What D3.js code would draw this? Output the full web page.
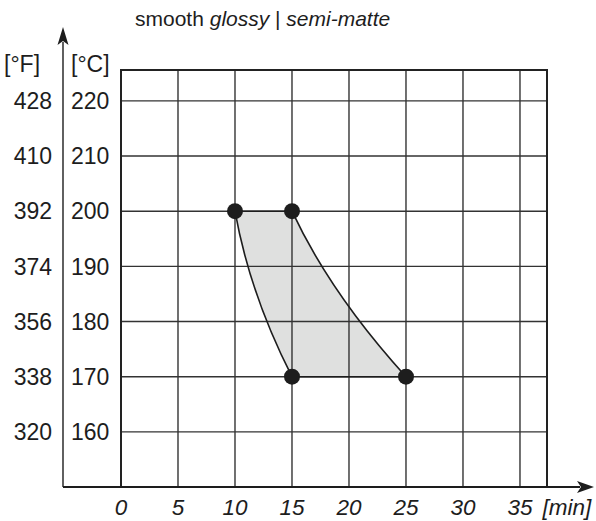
<!DOCTYPE html>
<html><head><meta charset="utf-8">
<script src="https://cdn.jsdelivr.net/npm/d3@7"></script>
<style>
html,body{margin:0;padding:0;background:#fff;}
svg{display:block;font-family:"Liberation Sans",Arial,sans-serif;}
</style></head>
<body>
<svg id="c" width="596" height="521"></svg>
<script>
// ---- data ----
const xTicks = [0, 5, 10, 15, 20, 25, 30, 35];
const yTicksC = [160, 170, 180, 190, 200, 210, 220];
const yTicksF = [320, 338, 356, 374, 392, 410, 428];
const pointTime = [10, 15, 15, 25];
const pointTemp = [200, 200, 170, 170];
// region outline: top edge, right curve (with control point), bottom edge, left curve (with control point)
const rightCurveCtrl = [18.4, 185];
const leftCurveCtrl = [11.3, 185];
const title = ["smooth ", "glossy", " | ", "semi-matte"];
const titleItalic = [false, true, false, true];

// ---- layout ----
const svg = d3.select("#c");
const x = d3.scaleLinear().domain([0, 37.37]).range([121, 547]);
const y = d3.scaleLinear().domain([150, 225.6]).range([487, 70]);
const ink = "#1d1d1d";
const axisX0 = 63;

// filled region
const p = pointTime.map((t, i) => [x(t), y(pointTemp[i])]);
const path = d3.path();
path.moveTo(p[0][0], p[0][1]);
path.lineTo(p[1][0], p[1][1]);
path.quadraticCurveTo(x(rightCurveCtrl[0]), y(rightCurveCtrl[1]), p[3][0], p[3][1]);
path.lineTo(p[2][0], p[2][1]);
path.quadraticCurveTo(x(leftCurveCtrl[0]), y(leftCurveCtrl[1]), p[0][0], p[0][1]);
path.closePath();
svg.append("path").attr("d", path.toString()).attr("fill", "#dfe0df");

// grid
const [xMin, xMax] = x.range();
const [yBot, yTop] = y.range();
svg.append("g").selectAll("line").data(xTicks).join("line")
  .attr("x1", d => x(d)).attr("x2", d => x(d)).attr("y1", yTop).attr("y2", yBot)
  .attr("stroke", "#333").attr("stroke-width", 1.4);
svg.append("g").selectAll("line").data(yTicksC).join("line")
  .attr("x1", xMin).attr("x2", xMax).attr("y1", d => y(d)).attr("y2", d => y(d))
  .attr("stroke", "#333").attr("stroke-width", 1.4);
// frame
svg.append("path").attr("d", `M${xMin},${yBot}V${yTop}H${xMax}V${yBot}`)
  .attr("fill", "none").attr("stroke", "#222").attr("stroke-width", 2);

// outline of region on top of grid
svg.append("path").attr("d", path.toString()).attr("fill", "none")
  .attr("stroke", ink).attr("stroke-width", 1.6);

// axes with arrows
svg.append("line").attr("x1", axisX0).attr("x2", 580).attr("y1", yBot).attr("y2", yBot)
  .attr("stroke", ink).attr("stroke-width", 2);
svg.append("path").attr("d", `M594,${yBot}L577,${yBot-6}L581,${yBot}L577,${yBot+6}Z`).attr("fill", ink);
svg.append("line").attr("x1", axisX0).attr("x2", axisX0).attr("y1", yBot).attr("y2", 42)
  .attr("stroke", ink).attr("stroke-width", 1.4);
svg.append("path").attr("d", `M${axisX0},27L${axisX0-5.5},45L${axisX0},41L${axisX0+5.5},45Z`).attr("fill", ink);

// points
svg.append("g").selectAll("circle").data(pointTime).join("circle")
  .attr("cx", d => x(d)).attr("cy", (d, i) => y(pointTemp[i])).attr("r", 8).attr("fill", ink);

// x labels
svg.append("g").selectAll("text").data(xTicks).join("text")
  .attr("x", d => x(d)).attr("y", 515).attr("text-anchor", "middle")
  .attr("font-size", 22.5).attr("font-style", "italic").attr("fill", ink).text(d => d);
svg.append("text").attr("x", 567).attr("y", 515).attr("text-anchor", "middle")
  .attr("font-size", 22.5).attr("font-style", "italic").attr("fill", ink).text("[min]");

// y labels
svg.append("g").selectAll("text").data(yTicksF).join("text")
  .attr("x", 52).attr("y", (d, i) => y(yTicksC[i])).attr("dy", "0.36em").attr("text-anchor", "end")
  .attr("font-size", 23).attr("fill", ink).text(d => d);
svg.append("g").selectAll("text").data(yTicksC).join("text")
  .attr("x", 71).attr("y", d => y(d)).attr("dy", "0.36em").attr("text-anchor", "start")
  .attr("font-size", 23).attr("fill", ink).text(d => d);
svg.append("text").attr("x", 4).attr("y", 72).attr("font-size", 23).attr("fill", ink).text("[°F]");
svg.append("text").attr("x", 71).attr("y", 72).attr("font-size", 23).attr("fill", ink).text("[°C]");

// title
const t = svg.append("text").attr("x", 135).attr("y", 26).attr("font-size", 21).attr("fill", ink);
title.forEach((s, i) => t.append("tspan").attr("font-style", titleItalic[i] ? "italic" : "normal").text(s));
</script>
</body></html>
